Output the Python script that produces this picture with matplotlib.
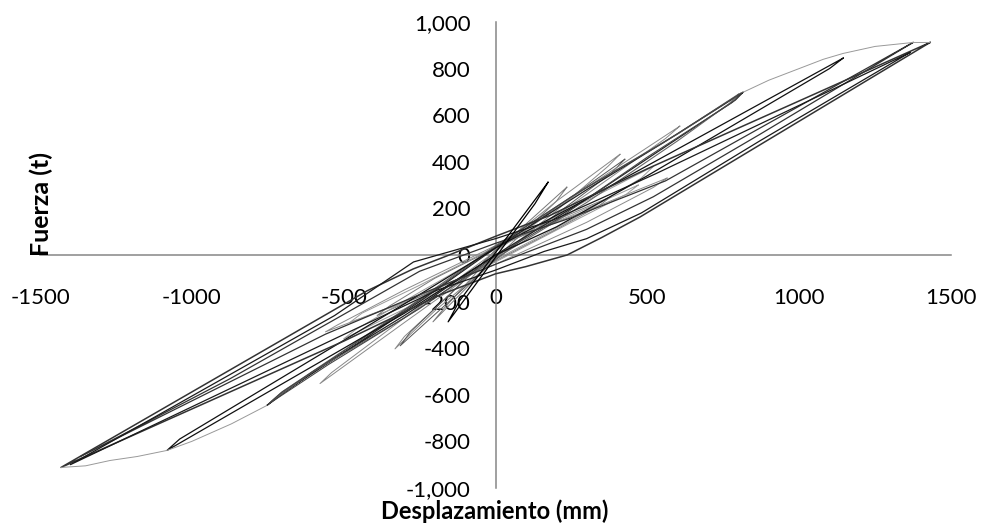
import matplotlib.pyplot as plt

# Hysteresis loops: desplazamiento (mm) vs fuerza (t)

# large cycles (~1400 mm)
loop_a_x = [1431, 476, 350, 236, 100, 0, -180, -500, -1431, -423, -271, -160, 0, 180, 500, 1431]
loop_a_y = [912, 163, 75, 0, -50, -81, -170, -370, -912, -154, -60, -4, 80, 170, 370, 912]

loop_b_x = [1375, 871, 520, 300, 200, 0, -250, -560, -1368, -874, -520, -250, 0, 250, 560, 1375]
loop_b_y = [912, 518, 250, 110, 60, -40, -170, -340, -866, -531, -270, -70, 50, 160, 318, 912]

loop_c_x = [1365, 871, 480, 300, 160, 0, -190, -530, -1400, -530, -270, 0, 190, 530, 1365]
loop_c_y = [869, 490, 180, 70, 15, -65, -150, -360, -900, -260, -30, 70, 150, 350, 869]

# ~1100 mm cycle
loop_d_x = [1145, 1100, 500, 200, 0, -300, -1082, -1040, -300, 0, 300, 1145]
loop_d_y = [845, 800, 340, 120, 0, -250, -839, -790, -210, 30, 240, 845]

# ~800 mm cycles
loop_e1_x = [815, 790, 600, 300, 0, -300, -600, -753, -710, -500, -250, 0, 300, 600, 815]
loop_e1_y = [698, 665, 500, 240, 0, -260, -500, -646, -600, -420, -200, 30, 280, 520, 698]

loop_e2_x = [800, 770, 600, 300, 0, -300, -600, -740, -700, -500, -250, 0, 300, 600, 800]
loop_e2_y = [690, 650, 490, 225, -15, -270, -500, -630, -585, -410, -190, 40, 290, 520, 690]

loop_e3_x = [808, 780, 500, 200, 0, -250, -550, -748, -705, -450, -200, 0, 250, 550, 808]
loop_e3_y = [694, 655, 420, 150, -5, -230, -470, -640, -590, -370, -150, 35, 250, 480, 694]

# ~600 mm cycle
loop_f_x = [607, 560, 300, 0, -300, -578, -540, -300, 0, 300, 607]
loop_f_y = [553, 500, 260, -10, -290, -552, -505, -270, 15, 290, 553]

# softer cycles near the origin
loop_g1_x = [565, 520, 300, 0, -300, -560, -520, -300, 0, 300, 565]
loop_g1_y = [330, 290, 140, -40, -200, -330, -300, -150, 40, 190, 330]

loop_g2_x = [470, 430, 250, 0, -250, -480, -440, -250, 0, 250, 470]
loop_g2_y = [300, 260, 140, -30, -180, -290, -250, -130, 35, 170, 300]

loop_g3_x = [380, 340, 200, 0, -200, -390, -350, -200, 0, 200, 380]
loop_g3_y = [250, 210, 110, -25, -150, -260, -220, -100, 30, 150, 250]

loop_g4_x = [520, 480, 250, 0, -250, -500, -460, -250, 0, 250, 520]
loop_g4_y = [380, 330, 150, -20, -200, -360, -320, -160, 25, 200, 380]

# small stiff cycles
loop_s1_x = [173, 130, 0, -156, -120, 0, 173]
loop_s1_y = [312, 220, -10, -287, -200, 10, 312]

loop_s2_x = [235, 200, 0, -206, -170, 0, 235]
loop_s2_y = [291, 230, -15, -287, -230, 15, 291]

loop_s3_x = [410, 370, 200, 0, -200, -331, -300, -150, 0, 200, 410]
loop_s3_y = [432, 380, 190, -20, -240, -403, -350, -170, 20, 230, 432]

loop_s4_x = [426, 380, 0, -314, -280, 0, 426]
loop_s4_y = [411, 350, -20, -390, -330, 20, 411]

# first-loading envelopes (thin grey)
env_pos_x = [815, 900, 1000, 1080, 1145, 1250, 1375, 1431]
env_pos_y = [698, 750, 800, 840, 865, 895, 912, 912]
env_neg_x = [-753, -870, -1000, -1082, -1180, -1269, -1350, -1431]
env_neg_y = [-646, -725, -800, -839, -865, -882, -905, -912]

x_ticks = [-1500, -1000, -500, 0, 500, 1000, 1500]
y_ticks = [-1000, -800, -600, -400, -200, 0, 200, 400, 600, 800, 1000]

plt.rcParams['font.family'] = ['Lato', 'DejaVu Sans']

fig = plt.figure(figsize=(9.81, 5.23), dpi=100)
ax = fig.add_axes([0.0408, 0.067, 0.9286, 0.891])

series = [
    (loop_g1_x, loop_g1_y, '#8a8a8a', 0.7),
    (loop_g2_x, loop_g2_y, '#9a9a9a', 0.7),
    (loop_g3_x, loop_g3_y, '#7a7a7a', 0.7),
    (loop_g4_x, loop_g4_y, '#999999', 0.7),
    (loop_s2_x, loop_s2_y, '#777777', 0.7),
    (loop_s3_x, loop_s3_y, '#888888', 0.7),
    (loop_s4_x, loop_s4_y, '#555555', 0.7),
    (loop_f_x, loop_f_y, '#888888', 0.7),
    (loop_e1_x, loop_e1_y, '#222222', 0.9),
    (loop_e2_x, loop_e2_y, '#666666', 0.8),
    (loop_e3_x, loop_e3_y, '#444444', 0.8),
    (loop_d_x, loop_d_y, '#111111', 0.9),
    (loop_a_x, loop_a_y, '#333333', 1.1),
    (loop_b_x, loop_b_y, '#333333', 0.9),
    (loop_c_x, loop_c_y, '#1a1a1a', 0.9),
    (loop_s1_x, loop_s1_y, '#000000', 0.9),
    (env_pos_x, env_pos_y, '#999999', 0.7),
    (env_neg_x, env_neg_y, '#999999', 0.7),
]
for xs, ys, c, lw in series:
    ax.plot(xs, ys, color=c, lw=lw, zorder=3)

ax.set_xlim(-1500, 1500)
ax.set_ylim(-1000, 1000)
ax.spines['left'].set_position(('data', 0))
ax.spines['bottom'].set_position(('data', 0))
ax.spines['right'].set_visible(False)
ax.spines['top'].set_visible(False)
for s in ['left', 'bottom']:
    ax.spines[s].set_color('#868686')
    ax.spines[s].set_linewidth(1.1)

ax.set_xticks(x_ticks)
ax.set_xticklabels([str(v) for v in x_ticks])
ax.set_yticks(y_ticks)
ax.set_yticklabels([f'{v:,}' for v in y_ticks])
ax.tick_params(axis='both', length=0, labelsize=16, colors='black')
ax.tick_params(axis='x', pad=24)
ax.tick_params(axis='y', pad=18)

fig.text(41 / 981, 1 - 204 / 523, 'Fuerza (t)', rotation=90, ha='center', va='center',
         fontsize=18, fontweight='bold')
fig.text(495 / 981, 0, 'Desplazamiento (mm)', ha='center', va='bottom',
         fontsize=17, fontweight='bold')

fig.savefig('out.png', dpi=100)
